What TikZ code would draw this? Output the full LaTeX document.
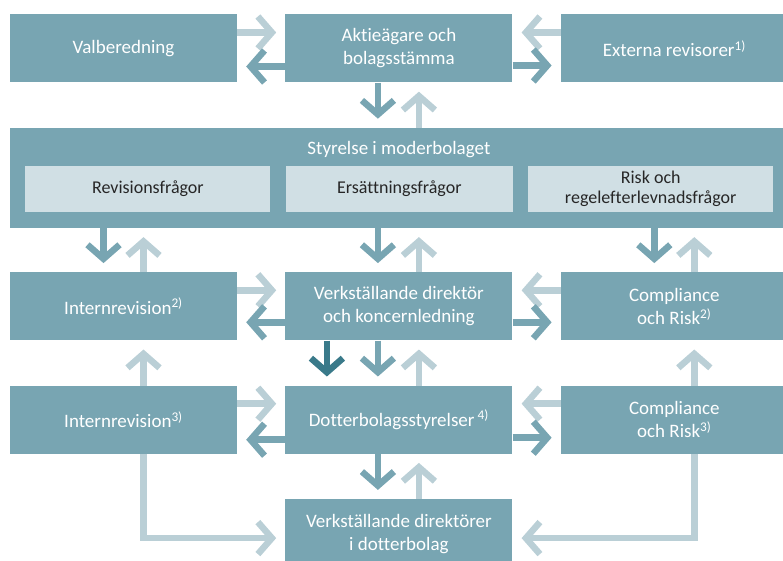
\documentclass[tikz,border=0pt]{standalone}
\usepackage{fontspec}
\setmainfont[Ligatures=NoCommon]{Carlito}
\usetikzlibrary{arrows.meta,positioning}
\definecolor{boxteal}{HTML}{78A5B2}
\definecolor{paleteal}{HTML}{D0DFE4}
\definecolor{liteteal}{HTML}{BACFD6}
\definecolor{darkteal}{HTML}{3A7A8A}

\begin{document}
\begin{tikzpicture}[
x=1pt, y=-1pt,
node distance=45pt and 48pt,
font=\fontsize{19}{23}\selectfont,
block/.style={fill=boxteal, text=white, align=center, minimum height=68pt, minimum width=227pt, inner sep=0pt},
part/.style={fill=paleteal, text=black!85, align=center, minimum height=46pt, inner sep=0pt, anchor=north west, font=\fontsize{18}{20}\selectfont},
line/.style={line width=6.5pt, -{Straight Barb[length=14pt,width=32pt]}, shorten >=9pt},
mline/.style={line, draw=boxteal},
lline/.style={line, draw=liteteal},
dline/.style={line, draw=darkteal}
]
\useasboundingbox (0,0) rectangle (783,561);

% --- Top row ---
\node[block] (valb) at (123.5,48.5) {Valberedning};
\node[block, right=of valb] (owners) {Aktieägare och\\bolagsstämma};
\node[block, right=of owners] (extrev) {Externa revisorer\textsuperscript{1)}};

% --- Board ---
\node[block, below=of owners, minimum width=777pt, minimum height=100pt] (board) {};
\node[text=white, inner sep=0pt, below=13pt of board.north] (boardtitle) {Styrelse i moderbolaget};
\node[part, minimum width=245pt] (audit) at ([shift={(15pt,-38pt)}]board.north west) {Revisionsfrågor};
\node[part, minimum width=227pt] (pay) at ([xshift=15pt]audit.north east) {Ersättningsfrågor};
\node[part, minimum width=245pt] (risk) at ([xshift=15pt]pay.north east) {Risk och\\regelefterlevnadsfrågor};

% --- Group management ---
\node[block, below=44pt of board] (ceo) {Verkställande direktör\\och koncernledning};
\node[block, left=of ceo] (intrev) {Internrevision\textsuperscript{2)}};
\node[block, right=of ceo] (comp) {Compliance\\och Risk\textsuperscript{2)}};

% --- Subsidiaries ---
\node[block, below=of ceo] (subboards) {Dotterbolagsstyrelser\,\textsuperscript{4)}};
\node[block, left=of subboards] (intrevsub) {Internrevision\textsuperscript{3)}};
\node[block, right=of subboards] (compsub) {Compliance\\och Risk\textsuperscript{3)}};
\node[block, below=of subboards, minimum height=69pt] (subceo) {Verkställande direktörer\\i dotterbolag};

% --- Top row links ---
\draw[lline] ([yshift=16pt]valb.east) -- ([yshift=16pt]owners.west);
\draw[mline] ([yshift=-18pt]owners.west) -- ([yshift=-18pt]valb.east);
\draw[lline] ([yshift=16pt]extrev.west) -- ([yshift=16pt]owners.east);
\draw[mline] ([yshift=-17pt]owners.east) -- ([yshift=-17pt]extrev.west);

\draw[mline] ([xshift=-21pt]owners.south) -- ([xshift=-21pt]board.north);
\draw[lline] ([xshift=20pt]board.north) -- ([xshift=20pt]owners.south);

% --- Board to management ---
\draw[mline] ([xshift=-20pt]intrev.north |- board.south) -- ([xshift=-20pt]intrev.north);
\draw[lline] ([xshift=20pt]intrev.north) -- ([xshift=20pt]intrev.north |- board.south);
\draw[mline] ([xshift=-21pt]board.south) -- ([xshift=-21pt]ceo.north);
\draw[lline] ([xshift=20pt]ceo.north) -- ([xshift=20pt]board.south);
\draw[mline] ([xshift=-20pt]comp.north |- board.south) -- ([xshift=-20pt]comp.north);
\draw[lline] ([xshift=20pt]comp.north) -- ([xshift=20pt]comp.north |- board.south);

% --- Management row ---
\draw[lline] ([yshift=16pt]intrev.east) -- ([yshift=16pt]ceo.west);
\draw[mline] ([yshift=-16pt]ceo.west) -- ([yshift=-16pt]intrev.east);
\draw[lline] ([yshift=16pt]comp.west) -- ([yshift=16pt]ceo.east);
\draw[mline] ([yshift=-16pt]ceo.east) -- ([yshift=-16pt]comp.west);

\draw[dline] ([xshift=-72pt]ceo.south) -- ([xshift=-72pt]subboards.north);
\draw[mline] ([xshift=-21pt]ceo.south) -- ([xshift=-21pt]subboards.north);
\draw[lline] ([xshift=20pt]subboards.north) -- ([xshift=20pt]ceo.south);
\draw[lline] ([xshift=20pt]intrevsub.north) -- ([xshift=20pt]intrev.south);
\draw[lline] ([xshift=20pt]compsub.north) -- ([xshift=20pt]comp.south);

% --- Subsidiary row ---
\draw[lline] ([yshift=16pt]intrevsub.east) -- ([yshift=16pt]subboards.west);
\draw[mline] ([yshift=-20pt]subboards.west) -- ([yshift=-20pt]intrevsub.east);
\draw[lline] ([yshift=16pt]compsub.west) -- ([yshift=16pt]subboards.east);
\draw[mline] ([yshift=-18pt]subboards.east) -- ([yshift=-18pt]compsub.west);

\draw[mline] ([xshift=-21pt]subboards.south) -- ([xshift=-21pt]subceo.north);
\draw[lline] ([xshift=20pt]subceo.north) -- ([xshift=20pt]subboards.south);
\draw[lline] ([xshift=20pt]intrevsub.south) |- ([yshift=-4.5pt]subceo.west);
\draw[lline] ([xshift=20pt]compsub.south) |- ([yshift=-4.5pt]subceo.east);

\end{tikzpicture}
\end{document}
